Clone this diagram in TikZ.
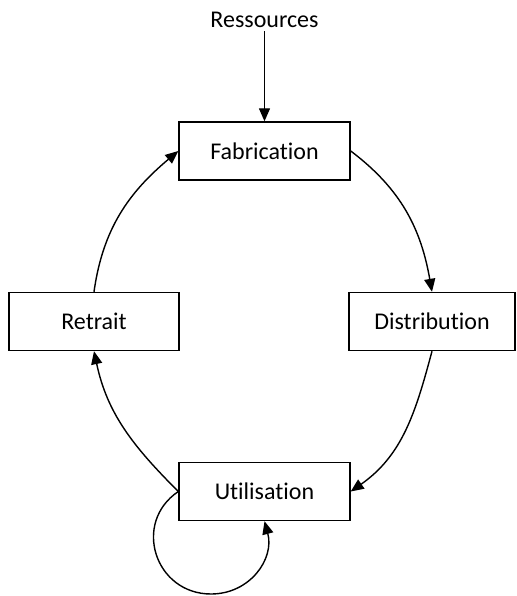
\documentclass[tikz,border=0pt]{standalone}
\usepackage{fontspec}
\setmainfont[Ligatures=NoCommon]{Carlito}
\usetikzlibrary{arrows.meta}
\begin{document}
\begin{tikzpicture} [x=1pt,y=1pt,
        box/.style={draw,line width=1.4pt,minimum width=171pt,minimum height=58pt,font=\fontsize{24}{28}\selectfont},
        flow/.style={line width=1.4pt,-{Triangle[length=13pt,width=11pt]}}]
        \useasboundingbox (0,0) rectangle (516,-596);
        \node[font=\fontsize{24}{28}\selectfont] (res) at (264.5,-20) {Ressources};
        \node[box] (fab) at (264.5,-151) {Fabrication};
        \node[box,minimum width=170pt] (ret) at (94,-321.5) {Retrait};
        \node[box,minimum width=166pt] (dist) at (432,-321.5) {Distribution};
        \node[box] (util) at (264.5,-491.5) {Utilisation};
        \coordinate (loop) at (211,-594);
        \draw[flow] (res) -- (fab);
        \draw[flow] (fab.east) to[out=-37,in=100] (dist.north);
        \draw[flow] (dist.south) to[out=-105,in=35] (util.east);
        \draw[flow] (util.west) to[out=135,in=-78] (ret.south);
        \draw[flow] (ret.north) to[out=82,in=-140] (fab.west);
        \draw[flow] (util.west) .. controls +(214:56) and +(180:56) .. (loop)
            .. controls +(0:39) and +(-75:39) .. (util.south);
    \end{tikzpicture}
\end{document}
